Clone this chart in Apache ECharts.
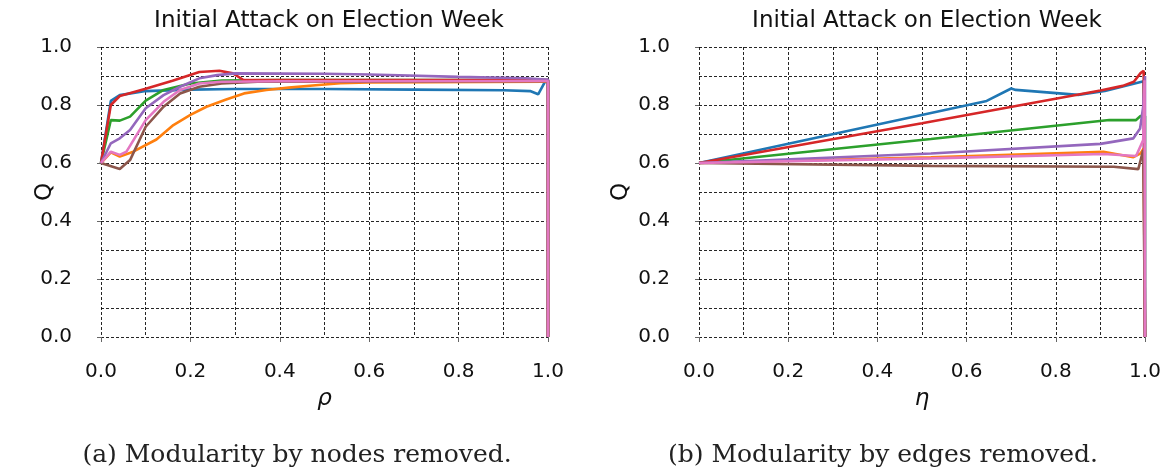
<!DOCTYPE html>
<html>
<head>
<meta charset="utf-8">
<script src="https://cdn.jsdelivr.net/npm/echarts@6/dist/echarts.min.js"></script>
<style>
html,body{margin:0;padding:0;background:#fff;}
#chart{width:1166px;height:472px;}
</style>
</head>
<body>
<div id="chart"></div>
<script>
// ---- data ----
const titleText = "Initial Attack on Election Week";
const captionA = "(a) Modularity by nodes removed.";
const captionB = "(b) Modularity by edges removed.";
const xNameA = "ρ";
const xNameB = "η";
const yName = "Q";
const seriesColors = ["#1f77b4", "#ff7f0e", "#2ca02c", "#d62728", "#9467bd", "#8c564b", "#e377c2"];

// Left panel: Q vs rho (fraction of nodes removed)
const nodesBlue   = [[0,0.6],[0.022,0.814],[0.042,0.834],[0.1,0.848],[0.2,0.853],[0.3,0.855],[0.5,0.855],[0.7,0.853],[0.9,0.851],[0.96,0.848],[0.978,0.837],[0.995,0.885],[1,0.885],[1,0]];
const nodesOrange = [[0,0.6],[0.022,0.637],[0.042,0.622],[0.072,0.639],[0.124,0.681],[0.162,0.731],[0.2,0.766],[0.236,0.794],[0.28,0.819],[0.32,0.84],[0.37,0.852],[0.42,0.86],[0.48,0.868],[0.535,0.875],[0.6,0.878],[0.995,0.88],[1,0.88],[1,0]];
const nodesGreen  = [[0,0.6],[0.022,0.748],[0.042,0.746],[0.065,0.76],[0.1,0.815],[0.14,0.852],[0.2,0.874],[0.27,0.884],[0.4,0.886],[0.995,0.886],[1,0.886],[1,0]];
const nodesRed    = [[0,0.6],[0.022,0.8],[0.042,0.831],[0.1,0.856],[0.16,0.884],[0.22,0.914],[0.265,0.918],[0.295,0.909],[0.318,0.887],[0.5,0.886],[0.8,0.886],[0.995,0.886],[1,0.886],[1,0]];
const nodesPurple = [[0,0.6],[0.022,0.668],[0.042,0.685],[0.065,0.714],[0.1,0.789],[0.14,0.834],[0.177,0.863],[0.22,0.892],[0.26,0.903],[0.3,0.909],[0.5,0.908],[0.6,0.905],[0.8,0.897],[0.95,0.892],[0.995,0.888],[1,0.888],[1,0]];
const nodesBrown  = [[0,0.6],[0.042,0.579],[0.065,0.61],[0.1,0.725],[0.14,0.794],[0.177,0.84],[0.22,0.863],[0.27,0.874],[0.35,0.88],[0.995,0.882],[1,0.882],[1,0]];
const nodesPink   = [[0,0.6],[0.022,0.639],[0.042,0.628],[0.057,0.639],[0.1,0.748],[0.14,0.811],[0.177,0.852],[0.22,0.874],[0.27,0.88],[0.4,0.882],[0.995,0.883],[1,0.883],[1,0]];

// Right panel: Q vs eta (fraction of edges removed)
const edgesBlue   = [[0,0.6],[0.645,0.814],[0.7,0.857],[0.71,0.852],[0.85,0.835],[0.91,0.848],[0.997,0.882],[1,0.882],[1,0]];
const edgesOrange = [[0,0.6],[0.52,0.62],[0.907,0.639],[0.974,0.62],[0.99,0.633],[0.997,0.65],[1,0.65],[1,0]];
const edgesGreen  = [[0,0.6],[0.52,0.683],[0.92,0.748],[0.98,0.748],[0.99,0.762],[1,0.762],[1,0]];
const edgesRed    = [[0,0.6],[0.5,0.737],[0.9,0.85],[0.95,0.866],[0.975,0.88],[0.99,0.91],[0.997,0.918],[1,0.918],[1,0]];
const edgesPurple = [[0,0.6],[0.52,0.633],[0.9,0.666],[0.974,0.685],[0.989,0.719],[0.996,0.794],[1,0.9],[1,0]];
const edgesBrown  = [[0,0.6],[0.52,0.59],[0.93,0.587],[0.985,0.579],[0.996,0.645],[1,0.645],[1,0]];
const edgesPink   = [[0,0.6],[0.52,0.616],[0.907,0.631],[0.98,0.624],[0.996,0.679],[0.999,0.885],[1,0.885],[1,0]];

const nodesSeries = [nodesBlue, nodesOrange, nodesGreen, nodesRed, nodesPurple, nodesBrown, nodesPink];
const edgesSeries = [edgesBlue, edgesOrange, edgesGreen, edgesRed, edgesPurple, edgesBrown, edgesPink];

// ---- styling ----
const FONT = "DejaVu Sans";
const gridLine = { color: "rgba(0,0,0,0.85)", width: 1, type: [3, 2] };

function xAxis(gridIndex, name) {
  return {
    type: "value", gridIndex, min: 0, max: 1, interval: 0.2,
    offset: 15,
    axisLine: { show: false },
    axisTick: { show: true, length: 5, lineStyle: { color: "#666", width: 1 } },
    minorTick: { show: false, splitNumber: 2 },
    splitLine: { show: true, lineStyle: gridLine },
    minorSplitLine: { show: true, lineStyle: gridLine },
    axisLabel: { fontFamily: FONT, fontSize: 20, color: "#111", margin: 10,
                 formatter: v => v.toFixed(1) },
    name, nameLocation: "middle", nameGap: 36, nameMoveOverlap: false,
    nameTextStyle: { fontFamily: FONT, fontSize: 23, fontStyle: "italic", color: "#111" }
  };
}
function yAxis(gridIndex, gap) {
  return {
    type: "value", gridIndex, min: 0, max: 1, interval: 0.2,
    offset: 22,
    axisLine: { show: false },
    axisTick: { show: true, length: 4, lineStyle: { color: "#666", width: 1 } },
    minorTick: { show: false, splitNumber: 2 },
    splitLine: { show: true, lineStyle: gridLine },
    minorSplitLine: { show: true, lineStyle: gridLine },
    axisLabel: { fontFamily: FONT, fontSize: 20, color: "#111", margin: 7,
                 formatter: v => v.toFixed(1) },
    name: yName, nameLocation: "middle", nameGap: gap, nameRotate: 90, nameMoveOverlap: false,
    nameTextStyle: { fontFamily: FONT, fontSize: 23, color: "#111" }
  };
}

const series = [];
nodesSeries.forEach((d, i) => series.push({
  type: "line", xAxisIndex: 0, yAxisIndex: 0, data: d, showSymbol: false, symbol: "none",
  lineStyle: { color: seriesColors[i], width: 2.6 }, itemStyle: { color: seriesColors[i] },
  animation: false, z: 3 + i
}));
edgesSeries.forEach((d, i) => series.push({
  type: "line", xAxisIndex: 1, yAxisIndex: 1, data: d, showSymbol: false, symbol: "none",
  lineStyle: { color: seriesColors[i], width: 2.6 }, itemStyle: { color: seriesColors[i] },
  animation: false, z: 3 + i
}));

const chart = echarts.init(document.getElementById("chart"), null, { renderer: "canvas" });
chart.setOption({
  backgroundColor: "#fff",
  animation: false,
  title: [
    { text: titleText, left: 324, top: 5, textAlign: "center",
      textStyle: { fontFamily: FONT, fontSize: 23, fontWeight: "normal", color: "#111" } },
    { text: titleText, left: 922, top: 5, textAlign: "center",
      textStyle: { fontFamily: FONT, fontSize: 23, fontWeight: "normal", color: "#111" } },
    { text: captionA, left: 292, top: 438, textAlign: "center",
      textStyle: { fontFamily: "DejaVu Serif", fontSize: 25, fontWeight: "normal", color: "#222" } },
    { text: captionB, left: 878, top: 438, textAlign: "center",
      textStyle: { fontFamily: "DejaVu Serif", fontSize: 25, fontWeight: "normal", color: "#222" } }
  ],
  grid: [
    { left: 101, top: 47, width: 447, height: 290 },
    { left: 699, top: 47, width: 446, height: 290 }
  ],
  xAxis: [xAxis(0, xNameA), xAxis(1, xNameB)],
  yAxis: [yAxis(0, 22), yAxis(1, 44)],
  series
});
</script>
</body>
</html>
